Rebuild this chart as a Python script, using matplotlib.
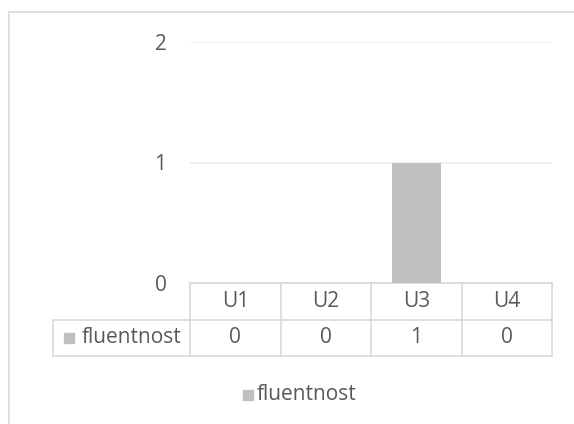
import matplotlib
matplotlib.use("Agg")
import matplotlib.pyplot as plt
from matplotlib.patches import Rectangle
from matplotlib.lines import Line2D

categories = ["U1", "U2", "U3", "U4"]
series_name = "fluentnost"
values = [0, 0, 1, 0]
yticks = [0, 1, 2]

W, H = 574, 424
plt.rcParams['font.family'] = ['Open Sans', 'DejaVu Sans']
fig = plt.figure(figsize=(W/100, H/100), dpi=100)
fig.patch.set_facecolor("white")

text_c = "#595959"
grid_c = "#ececec"
border_c = "#d9d9d9"
bar_c = "#bfbfbf"
fs = 15

# outer chart border
fig.add_artist(Rectangle((9/W, -0.1), 1.2, 1 - 12/H + 0.1, transform=fig.transFigure,
                         fill=False, edgecolor=border_c, linewidth=1.2))

x0, x1 = 190, 552
ytop, ybot = 42, 283
ax = fig.add_axes([x0/W, 1 - ybot/H, (x1 - x0)/W, (ybot - ytop)/H])
x = list(range(len(categories)))
ax.bar(x, values, width=0.54, color=bar_c, zorder=3)
ax.set_xlim(-0.5, len(categories) - 0.5)
ax.set_ylim(0, 2)
ax.set_yticks(yticks)
ax.set_yticklabels([str(t) for t in yticks], color=text_c, fontsize=fs)
ax.tick_params(axis='y', length=0, pad=17)
ax.set_xticks([])
for s in ax.spines.values():
    s.set_visible(False)
ax.grid(axis='y', color=grid_c, linewidth=1.2, zorder=0)
ax.set_facecolor("white")

# data table below the axes (axes coords)
axw = x1 - x0
axh = ybot - ytop
row_h = 36.5 / axh
label_left = (53 - x0) / axw
n = len(categories)
def L(xs, ys):
    ax.add_line(Line2D(xs, ys, transform=ax.transAxes, color=border_c,
                       linewidth=1.2, clip_on=False))
L([0, 1], [0, 0])
L([label_left, 1], [-row_h, -row_h])
L([label_left, 1], [-2*row_h, -2*row_h])
for i in range(n + 1):
    L([i/n, i/n], [0, -2*row_h])
L([label_left, label_left], [-row_h, -2*row_h])
for i, (c, v) in enumerate(zip(categories, values)):
    xc = (i + 0.5) / n
    ax.text(xc, -0.5*row_h, c, transform=ax.transAxes, ha='center', va='center',
            color=text_c, fontsize=fs)
    ax.text(xc, -1.5*row_h, str(v), transform=ax.transAxes, ha='center', va='center',
            color=text_c, fontsize=fs)
ax.text((82 - x0)/axw, -1.5*row_h, series_name, transform=ax.transAxes,
        ha='left', va='center', color=text_c, fontsize=fs)
ax.add_patch(Rectangle(((64 - x0)/axw, -1.5*row_h - 5/axh), 10/axw, 10/axh,
                       transform=ax.transAxes, color=bar_c, clip_on=False))

# legend
fig.text(257/W, 1 - 395/H, series_name, ha='left', va='center', color=text_c, fontsize=fs)
fig.add_artist(Rectangle((243/W, 1 - 400/H), 10/W, 10/H, transform=fig.transFigure,
                         color=bar_c))

fig.savefig("out.png", dpi=100, facecolor="white")
